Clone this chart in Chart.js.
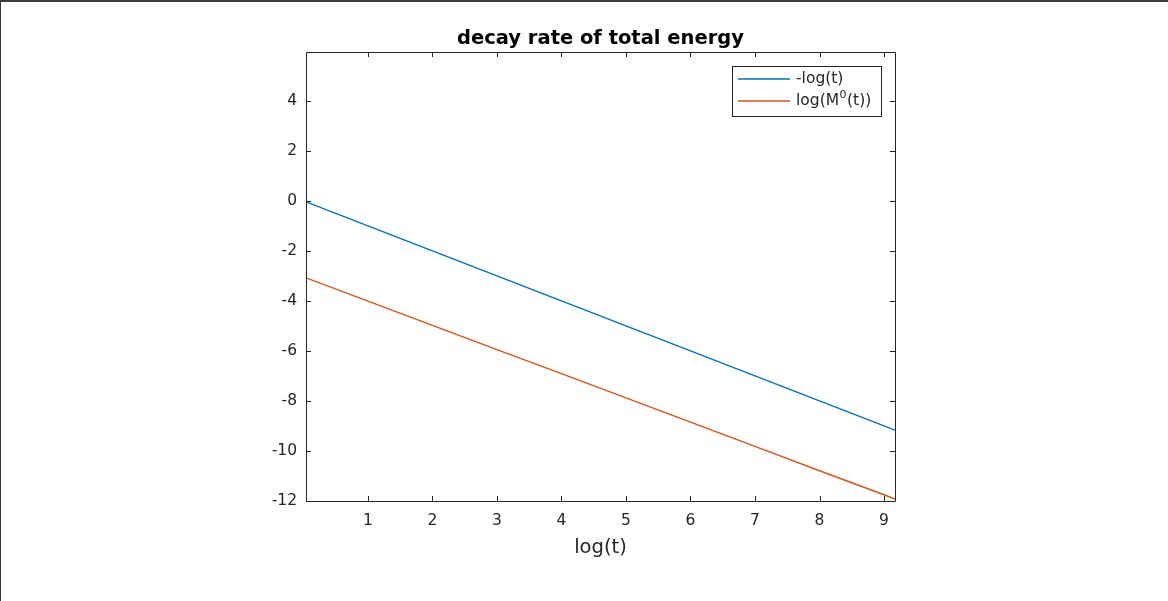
<!DOCTYPE html>
<html>
<head>
<meta charset="utf-8">
<script src="https://cdn.jsdelivr.net/npm/chart.js@4/dist/chart.umd.min.js"></script>
<style>
  html, body { margin: 0; padding: 0; background: #ffffff; }
  #wrap { position: relative; width: 1168px; height: 601px; background: #ffffff; }
  #c { position: absolute; left: 0; top: 0; }
  #frame { position: absolute; left: 0; top: 0; width: 1168px; height: 601px; box-sizing: border-box;
           border-top: 2px solid #3a3a3a; border-left: 1px solid #3a3a3a; pointer-events: none; }
</style>
</head>
<body>
<div id="wrap">
  <canvas id="c" width="1168" height="601"></canvas>
  <div id="frame"></div>
</div>
<script>
// ---- data ----
const xValues = [0.04, 1, 2, 3, 4, 5, 6, 7, 8, 9, 9.17];
const negLogT = [-0.04, -1, -2, -3, -4, -5, -6, -7, -8, -9, -9.17];
const logM0   = [-3.08, -4.01, -4.98, -5.95, -6.91, -7.88, -8.85, -9.82, -10.79, -11.75, -11.92];
const xTickValues = [1, 2, 3, 4, 5, 6, 7, 8, 9];
const yTickValues = [-12, -10, -8, -6, -4, -2, 0, 2, 4];
const seriesLabels = ['-log(t)', 'log(M\u2070(t))'];
const chartTitle = 'decay rate of total energy';
const xAxisTitle = 'log(t)';

const FONT = "'DejaVu Sans', sans-serif";
const AX = '#262626';
const colors = ['#0072BD', '#D95319'];

const toPoints = (ys) => xValues.map((x, i) => ({ x: x, y: ys[i] }));

const boxPlugin = {
  id: 'matlabBox',
  afterDatasetsDraw(chart) {
    const { ctx, chartArea: a, scales } = chart;
    const xs = scales.x, ys = scales.y;
    ctx.save();
    ctx.strokeStyle = AX;
    ctx.lineWidth = 1;
    ctx.beginPath();
    ctx.rect(Math.round(a.left) + 0.5, Math.round(a.top) + 0.5,
             Math.round(a.right - a.left), Math.round(a.bottom - a.top));
    ctx.stroke();
    const tl = 5;
    ctx.beginPath();
    xTickValues.forEach(v => {
      const px = Math.round(xs.getPixelForValue(v)) + 0.5;
      ctx.moveTo(px, a.bottom); ctx.lineTo(px, a.bottom - tl);
      ctx.moveTo(px, a.top); ctx.lineTo(px, a.top + tl);
    });
    yTickValues.forEach(v => {
      const py = Math.round(ys.getPixelForValue(v)) + 0.5;
      ctx.moveTo(a.left, py); ctx.lineTo(a.left + tl, py);
      ctx.moveTo(a.right, py); ctx.lineTo(a.right - tl, py);
    });
    ctx.stroke();

    // legend (top-right, inside the axes)
    const lx = 732, ly = 66, lw = 149, lh = 50;
    ctx.fillStyle = '#ffffff';
    ctx.fillRect(lx, ly, lw, lh);
    ctx.strokeStyle = AX;
    ctx.lineWidth = 1;
    ctx.strokeRect(lx + 0.5, ly + 0.5, lw, lh);
    ctx.textBaseline = 'middle';
    ctx.textAlign = 'left';
    chart.data.datasets.forEach((ds, i) => {
      const yy = ly + 13 + i * 22;
      ctx.strokeStyle = colors[i];
      ctx.lineWidth = 1.5;
      ctx.beginPath();
      ctx.moveTo(lx + 6, yy); ctx.lineTo(lx + 58, yy);
      ctx.stroke();
      ctx.fillStyle = AX;
      // render a superscript zero as a small raised "0"
      const parts = ds.label.split('\u2070');
      let x = lx + 64;
      parts.forEach((p, k) => {
        ctx.font = '15.5px ' + FONT;
        ctx.fillText(p, x, yy);
        x += ctx.measureText(p).width;
        if (k < parts.length - 1) {
          ctx.font = '11px ' + FONT;
          ctx.fillText('0', x + 0.5, yy - 6);
          x += ctx.measureText('0').width + 1;
        }
      });
    });
    ctx.restore();
  }
};

new Chart(document.getElementById('c'), {
  type: 'scatter',
  data: {
    datasets: [
      { label: seriesLabels[0], data: toPoints(negLogT), borderColor: colors[0], backgroundColor: colors[0],
        showLine: true, pointRadius: 0, borderWidth: 1.4, tension: 0 },
      { label: seriesLabels[1], data: toPoints(logM0), borderColor: colors[1], backgroundColor: colors[1],
        showLine: true, pointRadius: 0, borderWidth: 1.4, tension: 0 }
    ]
  },
  options: {
    responsive: false,
    animation: false,
    devicePixelRatio: 1,
    layout: { padding: { left: 0, right: 273, top: 0, bottom: 0 } },
    plugins: {
      legend: { display: false },
      tooltip: { enabled: false },
      title: {
        display: true, text: chartTitle, fullSize: false, color: '#000000',
        font: { family: FONT, size: 19.5, weight: 'bold' },
        padding: { top: 27, bottom: 1.6 }
      }
    },
    scales: {
      x: {
        type: 'linear', min: 0.04, max: 9.17,
        afterBuildTicks: s => { s.ticks = xTickValues.map(v => ({ value: v })); },
        afterFit: s => { s.height = 100; },
        grid: { display: false, drawTicks: false },
        border: { display: false },
        ticks: { color: AX, font: { family: FONT, size: 15.5 }, padding: 11, maxRotation: 0, autoSkip: false },
        title: { display: true, text: xAxisTitle, color: AX, font: { family: FONT, size: 19.5 },
                 padding: { top: 0, bottom: 41 } }
      },
      y: {
        type: 'linear', min: -12, max: 5.95,
        afterBuildTicks: s => { s.ticks = yTickValues.map(v => ({ value: v })); },
        afterFit: s => { s.width = 306; },
        grid: { display: false, drawTicks: false },
        border: { display: false },
        ticks: { color: AX, font: { family: FONT, size: 15.5 }, padding: 9, autoSkip: false }
      }
    }
  },
  plugins: [boxPlugin]
});
</script>
</body>
</html>
